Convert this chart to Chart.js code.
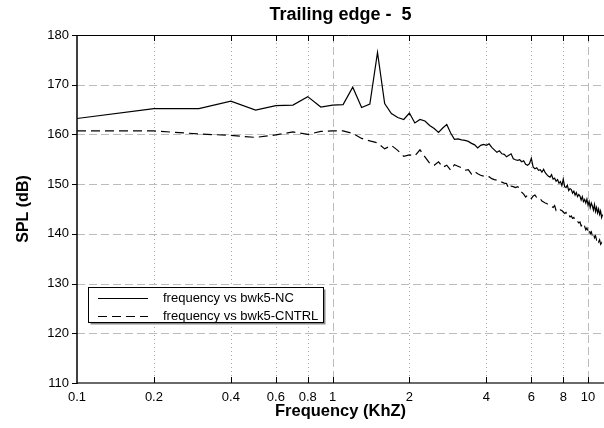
<!DOCTYPE html>
<html><head><meta charset="utf-8">
<script src="https://cdn.jsdelivr.net/npm/chart.js@4/dist/chart.umd.min.js"></script>
<style>html,body{margin:0;padding:0;background:#fff;overflow:hidden;width:604px;height:428px}canvas{display:block}</style>
</head><body>
<canvas id="c" width="620" height="428"></canvas>
<script>
const titleText = 'Trailing edge -  5';
const xTitle = 'Frequency (KhZ)';
const yTitle = 'SPL (dB)';
const seriesLabels = ['frequency vs bwk5-NC', 'frequency vs bwk5-CNTRL'];

const frequency = [
0.1,0.2,0.3,0.4,0.5,0.6,0.7,0.8,0.9,1.0,
1.1,1.2,1.3,1.4,1.5,1.6,1.7,1.8,1.9,2.0,
2.1,2.2,2.3,2.4,2.5,2.6,2.7,2.8,2.9,3.0,
3.1,3.2,3.3,3.4,3.5,3.6,3.7,3.8,3.9,4.0,
4.1,4.2,4.3,4.4,4.5,4.6,4.7,4.8,4.9,5.0,
5.1,5.2,5.3,5.4,5.5,5.6,5.7,5.8,5.9,6.0,
6.1,6.2,6.3,6.4,6.5,6.6,6.7,6.8,6.9,7.0,
7.1,7.2,7.3,7.4,7.5,7.6,7.7,7.8,7.9,8.0,
8.1,8.2,8.3,8.4,8.5,8.6,8.7,8.8,8.9,9.0,
9.1,9.2,9.3,9.4,9.5,9.6,9.7,9.8,9.9,10.0,
10.1,10.2,10.3,10.4,10.5,10.6,10.7,10.8,10.9,11.0,
11.1,11.2,11.3,11.4];

const bwk5NC = [
163.2,165.2,165.2,166.7,164.9,165.8,165.9,167.6,165.5,165.9,
166.0,169.5,165.4,166.1,176.5,166.2,164.2,163.4,163.0,164.3,
162.3,163.0,162.7,161.8,161.2,160.4,161.3,162.0,160.3,159.0,
159.1,158.9,158.8,158.6,158.2,157.9,157.3,157.8,158.0,157.8,
158.1,157.4,156.9,156.4,156.7,156.1,156.0,155.5,155.8,156.1,
155.1,154.9,154.8,154.9,154.5,154.7,154.0,153.8,154.1,155.2,
153.4,153.1,153.3,152.8,152.9,152.4,153.0,152.3,151.9,151.6,
151.4,151.9,151.0,151.2,150.6,150.9,150.2,150.5,149.7,151.0,
149.5,149.3,149.8,148.7,149.1,148.9,148.2,148.6,147.8,148.3,
147.5,147.9,147.6,146.8,147.5,146.5,146.9,146.2,147.0,145.8,
146.5,145.3,146.2,145.6,144.8,145.9,144.5,145.3,144.2,145.0,
143.9,144.6,143.3,143.9];

const bwk5CNTRL = [
160.7,160.7,160.1,159.8,159.4,159.9,160.5,160.0,160.6,160.7,
160.7,160.2,159.2,158.7,158.3,157.1,157.8,156.8,155.6,155.9,
155.7,156.9,155.5,154.2,153.8,154.5,153.4,153.8,152.8,153.9,
153.6,153.3,152.8,152.9,152.0,152.5,152.1,151.8,151.6,151.4,
151.5,151.1,150.9,150.8,150.5,150.4,150.2,150.1,149.1,149.6,
149.5,149.3,149.5,149.2,148.4,148.0,147.4,147.8,147.6,147.1,
147.6,147.8,147.3,147.0,147.1,146.6,146.4,146.2,146.1,145.8,
145.6,145.5,145.3,145.7,144.7,144.9,144.6,144.8,144.7,144.4,
144.1,144.3,143.7,143.9,143.4,143.6,143.1,143.3,142.8,142.9,
142.5,142.2,142.4,141.6,141.9,141.3,141.5,140.8,141.2,140.5,
140.9,140.0,140.4,139.6,140.1,139.2,139.6,138.8,139.1,138.4,
138.8,137.9,138.2,137.4];

const xTicks = [0.1,0.2,0.4,0.6,0.8,1,2,4,6,8,10];
const xMajor = [1,10];
const yTicks = [110,120,130,140,150,160,170,180];

const FONT = "'Liberation Sans', Arial, Helvetica, sans-serif";

function pts(ys){ return frequency.map((f,i)=>({x:f,y:ys[i]})); }

function seg(ctx,x1,y1,x2,y2){ ctx.beginPath(); ctx.moveTo(x1,y1); ctx.lineTo(x2,y2); ctx.stroke(); }

const decor = {
  id:'decor',
  beforeDatasetsDraw(chart){
    const {ctx, chartArea:a, scales:{x,y}} = chart;
    ctx.save();
    ctx.beginPath(); ctx.rect(a.left,a.top,a.right-a.left,a.bottom-a.top); ctx.clip();
    ctx.lineWidth = 1;
    ctx.strokeStyle = '#bcbcbc'; ctx.setLineDash([8,4]);
    yTicks.forEach(v=>{ const py = Math.round(y.getPixelForValue(v))+0.5; if(py<a.top+2||py>a.bottom-2) return; seg(ctx,a.left,py,a.right,py); });
    xMajor.forEach(v=>{ const px = Math.round(x.getPixelForValue(v))+0.5; seg(ctx,px,a.top,px,a.bottom); });
    ctx.strokeStyle = '#a8a8a8'; ctx.setLineDash([1,3]);
    xTicks.forEach(v=>{ if(xMajor.includes(v)||v===xTicks[0]) return; const px = Math.round(x.getPixelForValue(v))+0.5; seg(ctx,px,a.top,px,a.bottom); });
    ctx.restore();
  },
  afterDatasetsDraw(chart){
    const {ctx, chartArea:a, scales:{x,y}} = chart;
    ctx.save();
    ctx.setLineDash([]);
    ctx.strokeStyle = '#000'; ctx.lineWidth = 1;
    seg(ctx,a.left,Math.round(a.top)+0.5,a.right,Math.round(a.top)+0.5);
    ctx.strokeStyle = '#6a6a6a'; ctx.lineWidth = 2;
    seg(ctx,a.left,Math.round(a.bottom),a.right,Math.round(a.bottom));
    ctx.strokeStyle = '#000'; ctx.lineWidth = 1.5;
    seg(ctx,a.left,a.top,a.left,a.bottom+1);
    ctx.lineWidth = 1; ctx.strokeStyle = '#000';
    xTicks.forEach(v=>{ if(v===xTicks[0]) return; const px = Math.round(x.getPixelForValue(v))+0.5;
      seg(ctx,px,a.top,px,a.top+6); seg(ctx,px,a.bottom-6,px,a.bottom); });
    yTicks.forEach(v=>{ const py = Math.round(y.getPixelForValue(v))+0.5; seg(ctx,a.left-5,py,a.left,py); });

    const lx = 88.5, ly = 287.5, lw = 235, lh = 35;
    ctx.fillStyle = '#8a8a8a'; ctx.fillRect(lx+2, ly+2, lw, lh);
    ctx.fillStyle = '#fff'; ctx.fillRect(lx, ly, lw, lh);
    ctx.strokeStyle = '#000'; ctx.lineWidth = 1; ctx.strokeRect(lx, ly, lw, lh);
    const ds = chart.data.datasets;
    ctx.font = '13px ' + FONT; ctx.fillStyle = '#000'; ctx.textBaseline = 'middle'; ctx.textAlign = 'left';
    [298.5, 316.5].forEach((ry,i)=>{
      ctx.lineWidth = 1.2; ctx.setLineDash(ds[i].borderDash||[]);
      seg(ctx, 98, ry, 148, ry);
      ctx.setLineDash([]);
      ctx.fillText(ds[i].label, 163, ry);
    });
    ctx.restore();
  },
  afterDraw(chart){
    // title centred over the visible part of the plot
    const {ctx, chartArea:a} = chart;
    ctx.save();
    ctx.font = 'bold 18px ' + FONT; ctx.fillStyle = '#000';
    ctx.textAlign = 'center'; ctx.textBaseline = 'middle';
    ctx.fillText(titleText, (a.left + 604) / 2, 15);
    ctx.restore();
  }
};

new Chart(document.getElementById('c').getContext('2d'), {
  type:'line',
  data:{datasets:[
    {label:seriesLabels[0], data:pts(bwk5NC), borderColor:'#000', borderWidth:1.2, pointRadius:0, tension:0, fill:false},
    {label:seriesLabels[1], data:pts(bwk5CNTRL), borderColor:'#000', borderWidth:1.2, borderDash:[9,5], pointRadius:0, tension:0, fill:false}
  ]},
  options:{
    responsive:false, animation:false, devicePixelRatio:1,
    layout:{padding:{top:35, left:0, right:0, bottom:0}},
    plugins:{
      legend:{display:false}, tooltip:{enabled:false}, title:{display:false}
    },
    scales:{
      x:{type:'logarithmic', min:0.1, max:13.34,
        afterBuildTicks(s){ s.ticks = xTicks.map(v=>({value:v})); },
        afterFit(s){ s.height = 45; s.paddingLeft = 0; s.paddingRight = 0; },
        grid:{display:false, drawTicks:false}, border:{display:false},
        ticks:{color:'#000', font:{family:FONT, size:13}, padding:7, maxRotation:0, autoSkip:false, callback(v){ return String(v); }},
        title:{display:false}
      },
      y:{type:'linear', min:110, max:180,
        afterBuildTicks(s){ s.ticks = yTicks.map(v=>({value:v})); },
        afterFit(s){ s.width = 77; },
        grid:{display:false, drawTicks:false}, border:{display:false},
        ticks:{color:'#000', font:{family:FONT, size:13}, padding:8},
        title:{display:true, text:yTitle, color:'#000', font:{family:FONT, size:16, weight:'bold'}, padding:{top:14, bottom:0}}
      }
    }
  },
  plugins:[decor, {
    id:'xtitle',
    afterDraw(chart){
      const {ctx, chartArea:a} = chart;
      ctx.save();
      ctx.font = 'bold 16.5px ' + FONT; ctx.fillStyle = '#000';
      ctx.textAlign = 'center'; ctx.textBaseline = 'middle';
      ctx.fillText(xTitle, (a.left + 604) / 2, 411);
      ctx.restore();
    }
  }]
});
</script>
</body></html>
